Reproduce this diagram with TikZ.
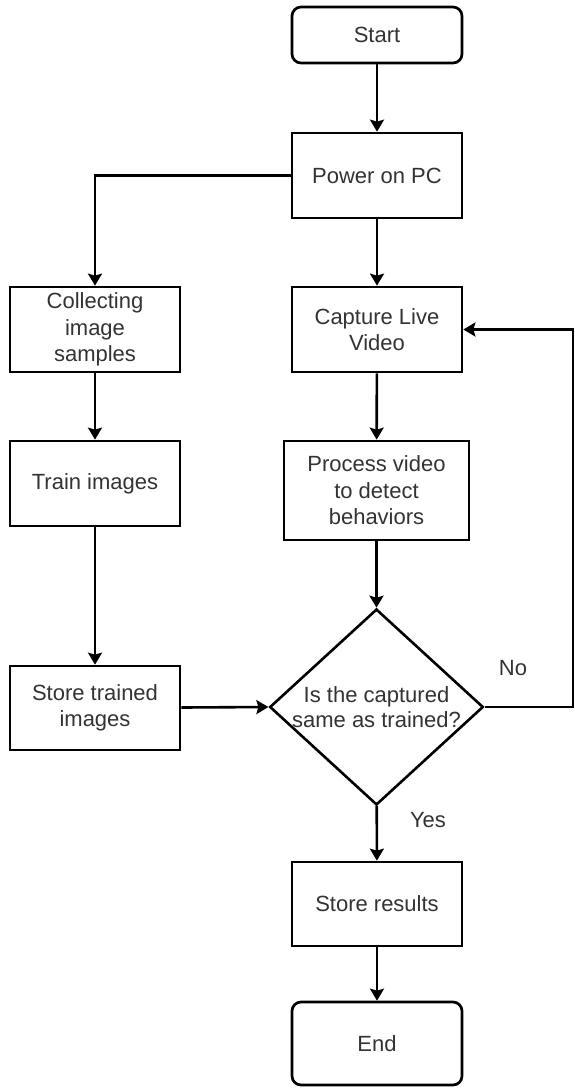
\documentclass[tikz,border=0pt]{standalone}
\usepackage{fontspec}
\setmainfont{Liberation Sans}
\usetikzlibrary{shapes.geometric,arrows.meta}
\begin{document}
\begin{tikzpicture}[x=1pt,y=-1pt,
  every node/.style={font=\fontsize{22}{26.5}\selectfont, text=black!80},
  box/.style={draw=black, line width=2.7pt, minimum width=170pt, minimum height=85pt,
              align=center, inner sep=0pt, fill=white},
  term/.style={box, rounded corners=9pt, minimum height=56pt},
  decision/.style={draw=black, line width=2.6pt, diamond, aspect=1.09,
              minimum width=209pt, minimum height=192pt, inner sep=0pt, align=center,
              font=\fontsize{22}{25}\selectfont},
  flow/.style={draw=black, line width=2.6pt,
              -{Stealth[length=12pt, width=14pt, inset=2pt]}},
  lbl/.style={inner sep=0pt}]
\useasboundingbox (0,0) rectangle (575,1088);
\fill[white] (0,0) rectangle (575,1088);

% main column
\node[term] (start) at (377,35) {Start};
\node[box] (power) at (377,175.5) {Power on PC};
\node[box] (capture) at (377,329.5) {Capture Live\\Video};
\node[box, minimum width=185pt, minimum height=99pt] (process) at (376.5,490.5)
  {Process video\\to detect\\behaviors};
\node[decision] (check) at (376.5,707) {Is the captured\\same as trained?};
\node[box, minimum height=84pt] (results) at (377,904) {Store results};
\node[term, minimum height=83pt] (end) at (377,1043.5) {End};

% training column
\node[box] (collect) at (95,329.5) {Collecting\\image\\samples};
\node[box] (train) at (95,483.5) {Train images};
\node[box, minimum height=84pt] (stored) at (95,708) {Store trained\\images};

\coordinate (loop) at (573,707);

% connectors
\draw[flow] (start) -- (power);
\draw[flow] (power) -- (capture);
\draw[flow] (capture) -- (process);
\draw[flow] (process) -- (check);
\draw[flow] (check) -- (results);
\draw[flow] (results) -- (end);
\draw[flow] (power.west) -| (collect.north);
\draw[flow] (collect) -- (train);
\draw[flow] (train) -- (stored);
\draw[flow] (stored) -- (check.west);
\draw[flow] (check.east) -- (loop) |- (capture.east);

% branch labels
\node[lbl] (no) at (513,668) {No};
\node[lbl] (yes) at (428,820) {Yes};
\end{tikzpicture}
\end{document}
